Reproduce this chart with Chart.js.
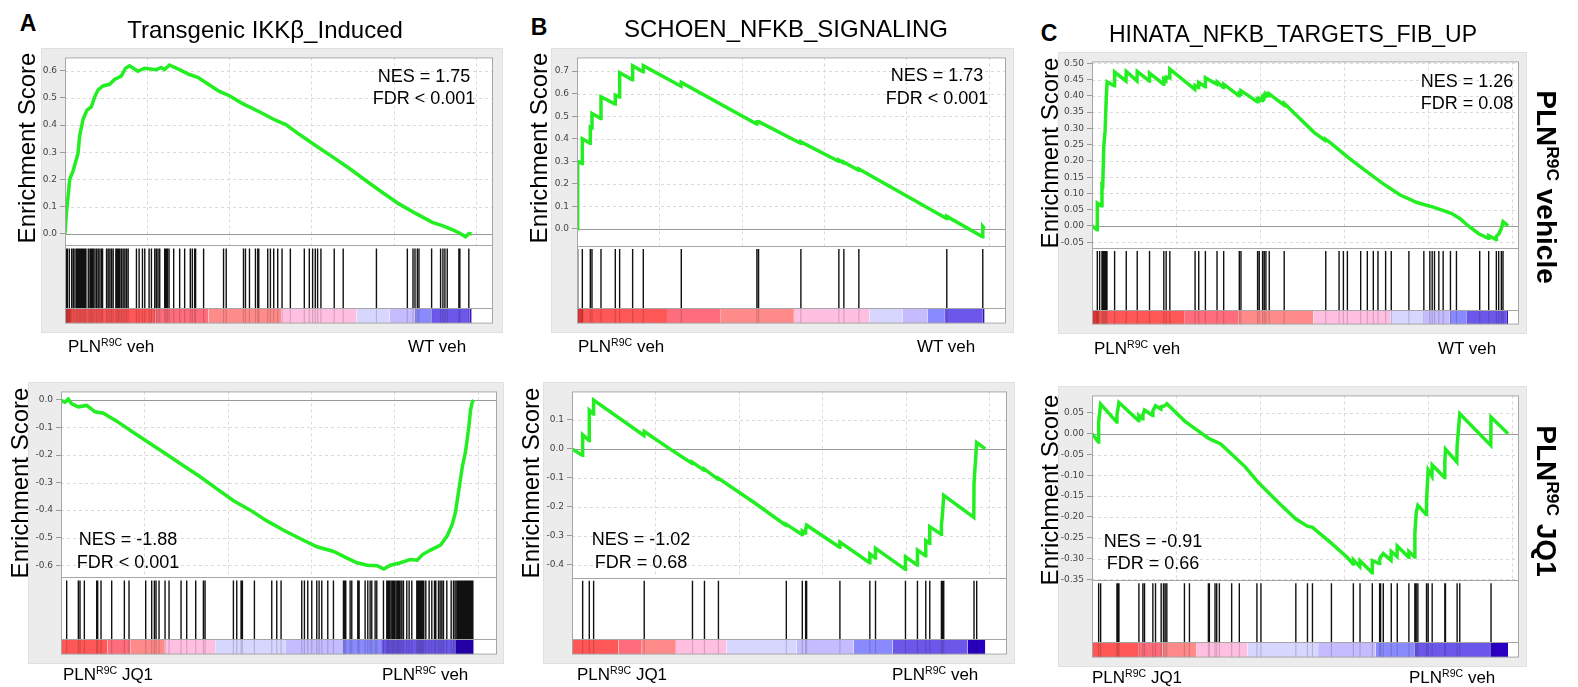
<!DOCTYPE html>
<html>
<head>
<meta charset="utf-8">
<script src="https://cdn.jsdelivr.net/npm/chart.js@4.4.1/dist/chart.umd.min.js"></script>
<style>
  html, body { margin: 0; padding: 0; background: #fff; }
  body { width: 1578px; height: 687px; position: relative; overflow: hidden;
         font-family: "Liberation Sans", Arial, sans-serif; color: #000; }
  .frame { position: absolute; background: #ececec; outline: 1px solid #e0e0e0; }
  .txt { position: absolute; white-space: nowrap; line-height: 1; }
  .sup { font-size: 0.62em; position: relative; top: -0.55em; }
</style>
</head>
<body>
<script>
// gene rank axis (ranked list of ~24750 genes)
const xGridStep = 5000;

// ---- row 1: PLN R9C veh vs WT veh ----
const esA1 = [[0,0],[81,0.075],[182,0.134],[284,0.20],[486,0.23],[648,0.265],[790,0.295],[891,0.36],[1094,0.42],[1337,0.455],[1600,0.467],[1802,0.503],[2005,0.529],[2309,0.544],[2714,0.55],[3017,0.568],[3422,0.58],[3686,0.609],[3929,0.618],[4435,0.598],[4840,0.609],[5549,0.604],[5852,0.612],[6055,0.604],[6359,0.621],[6966,0.604],[7574,0.586],[8080,0.576],[8586,0.556],[9396,0.524],[10004,0.508],[10813,0.479],[11826,0.449],[12838,0.417],[13446,0.402],[14256,0.366],[15269,0.324],[16281,0.283],[17294,0.241],[18306,0.196],[19319,0.152],[20331,0.110],[21344,0.075],[22356,0.042],[22964,0.030],[23571,0.015],[23976,0.004],[24381,-0.011],[24584,0.001],[24750,0]];
const hitsA1 = [61,142,263,405,506,607,708,789,870,951,1032,1113,1194,1274,1416,1517,1580,1659,1720,1821,1922,2023,2124,2225,2286,2529,2630,2731,2832,2933,3095,3176,3257,3338,3439,3540,3641,3743,3844,4349,4511,4714,4855,5118,5260,5462,5563,5664,5766,6069,6150,6231,6332,6615,6979,7283,7627,7748,7890,7950,8436,9650,9812,10863,10985,11228,11592,11733,11794,12340,12502,12704,12947,13210,13716,14566,14869,15071,15233,15375,15577,16386,16933,18955,20837,21181,21302,21444,21545,22314,22860,23002,23123,23265,23973,24033,24579];
const ticksA1 = [0, 0.1, 0.2, 0.3, 0.4, 0.5, 0.6];

const esB1 = [[0,0],[40,0.30],[310,0.29],[324,0.40],[795,0.38],[809,0.451],[895,0.448],[910,0.512],[1440,0.49],[1457,0.586],[2310,0.554],[2326,0.593],[2575,0.585],[2589,0.693],[3362,0.662],[3378,0.724],[4010,0.697],[4026,0.724],[6315,0.633],[6332,0.65],[10908,0.465],[10924,0.475],[11025,0.476],[13580,0.38],[13595,0.386],[15885,0.30],[15901,0.305],[16190,0.292],[16204,0.296],[17100,0.26],[17115,0.265],[22440,0.045],[22455,0.055],[24625,-0.036],[24640,0.01],[24750,0]];
const hitsB1 = [40,324,809,910,1457,2326,2589,3378,4026,6332,10924,11025,13595,15901,16204,17115,22455,24640];
const ticksB1 = [0, 0.1, 0.2, 0.3, 0.4, 0.5, 0.6, 0.7];

const esC1 = [[0,0],[300,-0.012],[316,0.07],[575,0.062],[593,0.126],[640,0.124],[700,0.244],[780,0.293],[850,0.397],[900,0.443],[1330,0.431],[1345,0.473],[2020,0.446],[2037,0.475],[2675,0.446],[2690,0.475],[3405,0.446],[3422,0.47],[4255,0.436],[4272,0.452],[4395,0.447],[4411,0.458],[4615,0.455],[4629,0.482],[6115,0.42],[6132,0.432],[6330,0.426],[6349,0.441],[6730,0.428],[6745,0.456],[7420,0.436],[7437,0.443],[7815,0.426],[7833,0.436],[8745,0.40],[8763,0.408],[8845,0.405],[8861,0.416],[9835,0.382],[9850,0.388],[9935,0.385],[9949,0.392],[10130,0.386],[10147,0.396],[10230,0.393],[10246,0.402],[10330,0.399],[10345,0.407],[10530,0.40],[10543,0.406],[11420,0.372],[11433,0.377],[13205,0.288],[13890,0.262],[13905,0.266],[14226,0.254],[15246,0.21],[16267,0.17],[17287,0.131],[18308,0.096],[19328,0.072],[20349,0.057],[21369,0.039],[21879,0.023],[22390,0],[23002,-0.024],[23580,-0.038],[23597,-0.03],[24035,-0.042],[24052,-0.032],[24191,-0.025],[24349,-0.008],[24448,0.013],[24750,0]];
const hitsC1 = [316,455,593,653,712,771,831,890,1345,2037,2690,3422,4272,4411,4629,6132,6349,6745,7437,7833,8763,8861,9850,9949,10147,10246,10345,10543,11433,13905,14697,14954,15191,15982,16378,16734,17011,17466,17802,18850,19740,20096,20235,20373,20631,20888,21323,21679,23063,23597,24052,24191,24349,24448];
const ticksC1 = [-0.05, 0, 0.05, 0.1, 0.15, 0.2, 0.25, 0.3, 0.35, 0.4, 0.45, 0.5];

// ---- row 2: PLN R9C JQ1 vs PLN R9C veh ----
const esA2 = [[0,-0.002],[240,-0.008],[440,0.003],[641,-0.014],[1041,-0.025],[1542,-0.02],[2042,-0.043],[2543,-0.048],[3343,-0.077],[4344,-0.118],[5345,-0.158],[6346,-0.198],[7347,-0.239],[8348,-0.279],[9349,-0.323],[10350,-0.366],[11351,-0.40],[12352,-0.439],[13353,-0.473],[14354,-0.504],[15355,-0.533],[16356,-0.55],[17157,-0.574],[17758,-0.591],[18358,-0.60],[18959,-0.602],[19359,-0.614],[19760,-0.60],[20361,-0.591],[20961,-0.579],[21362,-0.582],[21662,-0.562],[22162,-0.545],[22763,-0.527],[23163,-0.493],[23464,-0.452],[23664,-0.406],[23864,-0.325],[24064,-0.245],[24264,-0.187],[24464,-0.095],[24564,-0.037],[24664,-0.008],[24750,0]];
const hitsA2 = [340,1040,1140,1400,2140,2200,2400,3040,3800,4080,5080,5440,5600,5700,5880,6240,6480,7200,7540,8080,8540,8640,10340,10540,10800,10880,11600,12640,12940,13200,14440,14600,14800,15040,15340,15480,15640,16000,16340,16940,17000,17080,17340,17440,17800,17880,18240,18400,18540,18640,18840,18940,19340,19540,19600,19660,19740,19840,19900,19960,20040,20140,20200,20260,20340,20440,20540,20740,20880,21040,21340,21400,21460,21520,21580,21640,21700,21760,21880,22080,22240,22400,22480,22640,22740,22840,22940,23140,23400,23540,23640,23740,23800,23860,23920,23980,24040,24100,24160,24220,24280,24340,24400,24460,24520,24580,24640,24700];
const ticksA2 = [-0.6, -0.5, -0.4, -0.3, -0.2, -0.1, 0];

const esB2 = [[0,0],[620,-0.022],[638,0.049],[1020,0.029],[1036,0.133],[1280,0.12],[1295,0.168],[4305,0.046],[4325,0.06],[5860,0],[7200,-0.05],[7215,-0.046],[7915,-0.074],[7932,-0.07],[8750,-0.105],[8769,-0.101],[10860,-0.183],[12820,-0.264],[12835,-0.26],[13775,-0.295],[13792,-0.283],[13975,-0.29],[13991,-0.278],[14051,-0.263],[16025,-0.339],[16044,-0.321],[17820,-0.392],[17837,-0.362],[18160,-0.376],[18176,-0.343],[19955,-0.415],[19970,-0.372],[20670,-0.40],[20687,-0.349],[21170,-0.368],[21186,-0.316],[21410,-0.325],[21425,-0.268],[22105,-0.294],[22122,-0.262],[22182,-0.228],[22262,-0.16],[24060,-0.236],[24075,-0.118],[24235,0.022],[24750,0]];
const hitsB2 = [638,1036,1295,4325,7215,7932,8769,12835,13792,13991,14051,16044,17837,18176,19970,20687,21186,21425,22122,22182,22262,24075,24235];
const ticksB2 = [-0.4, -0.3, -0.2, -0.1, 0, 0.1];

const esC2 = [[0,0],[380,-0.02],[396,0.028],[514,0.071],[1470,0.028],[1484,0.045],[1543,0.06],[1602,0.075],[2775,0.031],[2789,0.044],[3010,0.036],[3026,0.045],[3125,0.057],[3605,0.044],[3620,0.055],[3778,0.067],[4100,0.059],[4114,0.065],[4253,0.066],[4352,0.068],[4451,0.072],[5499,0.031],[5796,0.022],[6923,-0.011],[7418,-0.02],[7672,-0.025],[9096,-0.079],[9910,-0.118],[11131,-0.167],[12125,-0.205],[12817,-0.222],[13114,-0.225],[14184,-0.261],[15201,-0.298],[15530,-0.313],[15547,-0.303],[15925,-0.319],[15943,-0.305],[16660,-0.334],[16675,-0.305],[17095,-0.312],[17110,-0.302],[17169,-0.296],[17327,-0.288],[17785,-0.304],[17802,-0.283],[18140,-0.295],[18158,-0.27],[18835,-0.297],[18850,-0.283],[19190,-0.296],[19206,-0.24],[19286,-0.19],[19384,-0.172],[19880,-0.194],[19899,-0.16],[19998,-0.087],[20220,-0.102],[20235,-0.075],[20970,-0.105],[20987,-0.07],[21027,-0.037],[21700,-0.068],[21719,-0.029],[21877,0.048],[23720,-0.028],[23736,0.04],[24750,0]];
const hitsC2 = [396,514,1484,1543,1602,2789,3026,3125,3620,3778,4114,4253,4352,4451,5499,5796,6923,6982,7319,7418,7576,8308,8763,9811,10049,12125,12817,13114,14242,15547,15943,16675,17110,17169,17327,17802,18158,18850,19206,19286,19384,19899,19998,20235,20987,21027,21719,21877,23736];
const ticksC2 = [-0.35, -0.3, -0.25, -0.2, -0.15, -0.1, -0.05, 0, 0.05];

// ranked-list colour bars (rank edges + colour of each block)
const vehBarEdges = [0, 420, 5520, 8730, 13170, 17750, 19760, 21280, 22300, 24640, 24750];
const vehBarColors = ['#dd3535', '#ff5656', '#ff6c7b', '#ff8a8a', '#ffbfe1', '#d6d6ff', '#c4bcff', '#8a8aff', '#6b58ea', '#3a10c0'];
const jq1BarEdges = [0, 2780, 4180, 6220, 9250, 13450, 16870, 19200, 23690, 24750];
const jq1BarColors = ['#ff5656', '#ff6c7b', '#ff8a8a', '#ffbfe1', '#d6d6ff', '#c4bcff', '#8a8aff', '#6b58ea', '#2a00c0'];

const panels = [
  { es: esA1, hits: hitsA1, ticks: ticksA1, dec: 1, yMin: -0.043, yMax: 0.649, xMax: 26050,
    edges: vehBarEdges, colors: vehBarColors, frame: [42, 49, 460, 283], pad: [6, 9, 1], axisW: 23, rows: [195, 65, 16] },
  { es: esB1, hits: hitsB1, ticks: ticksB1, dec: 1, yMin: -0.0755, yMax: 0.761, xMax: 26050,
    edges: vehBarEdges, colors: vehBarColors, frame: [552, 49, 461, 283], pad: [5, 7, 1], axisW: 25, rows: [196, 65, 16] },
  { es: esC1, hits: hitsC1, ticks: ticksC1, dec: 2, yMin: -0.067, yMax: 0.506, xMax: 25400,
    edges: vehBarEdges, colors: vehBarColors, frame: [1059, 53, 467, 280], pad: [5, 7, 1], axisW: 33, rows: [194, 65, 15] },
  { es: esA2, hits: hitsA2, ticks: ticksA2, dec: 1, yMin: -0.644, yMax: 0.031, xMax: 26150,
    edges: jq1BarEdges, colors: jq1BarColors, frame: [29, 383, 474, 280], pad: [4, 6, 0], axisW: 32, rows: [195, 65, 16] },
  { es: esB2, hits: hitsB2, ticks: ticksB2, dec: 1, yMin: -0.4436, yMax: 0.198, xMax: 26050,
    edges: jq1BarEdges, colors: jq1BarColors, frame: [544, 383, 470, 280], pad: [3, 7, 0], axisW: 28, rows: [196, 65, 16] },
  { es: esC2, hits: hitsC2, ticks: ticksC2, dec: 2, yMin: -0.3516, yMax: 0.092, xMax: 25400,
    edges: jq1BarEdges, colors: jq1BarColors, frame: [1059, 387, 467, 279], pad: [4, 7, 1], axisW: 33, rows: [193, 65, 16] }
];

// white plot area, dashed grid limited to the ES part, borders and separators
const framePlugin = {
  id: 'frame',
  beforeDraw(chart) {
    const { ctx, chartArea: a } = chart;
    ctx.save();
    ctx.fillStyle = '#fff';
    ctx.fillRect(a.left, a.top, a.width, a.height);
    ctx.restore();
  },
  beforeDatasetsDraw(chart) {
    const { ctx, chartArea: a, scales: { x, y } } = chart;
    const line = (x1, y1, x2, y2) => { ctx.beginPath(); ctx.moveTo(x1, y1); ctx.lineTo(x2, y2); ctx.stroke(); };
    ctx.save();
    ctx.lineWidth = 1;
    ctx.strokeStyle = '#dadada';
    ctx.setLineDash([3, 3]);
    for (let v = xGridStep; v < x.max; v += xGridStep) {
      const px = Math.round(x.getPixelForValue(v)) + 0.5;
      line(px, y.top, px, y.bottom);
    }
    y.ticks.forEach(t => {
      if (t.value === 0) return;
      const py = Math.round(y.getPixelForValue(t.value)) + 0.5;
      line(a.left, py, a.right, py);
    });
    ctx.setLineDash([]);
    ctx.strokeStyle = '#999';
    const z = Math.round(y.getPixelForValue(0)) + 0.5;
    line(a.left, z, a.right, z);
    ctx.restore();
  },
  afterDatasetsDraw(chart) {
    const { ctx, chartArea: a, scales: { yHit } } = chart;
    ctx.save();
    ctx.lineWidth = 1;
    ctx.strokeStyle = '#a6a6a6';
    ctx.strokeRect(a.left + 0.5, a.top + 0.5, a.width - 1, a.height - 1);
    [yHit.top, yHit.bottom].forEach(py => {
      const p = Math.round(py) + 0.5;
      ctx.beginPath(); ctx.moveTo(a.left, p); ctx.lineTo(a.right, p); ctx.stroke();
    });
    ctx.restore();
  }
};

function hitSegments(hits, top) {
  return hits.flatMap(h => [{ x: h, y: 0 }, { x: h, y: top }, { x: h, y: null }]);
}

function buildPanel(p) {
  const box = document.createElement('div');
  box.className = 'frame';
  Object.assign(box.style, { left: p.frame[0] + 'px', top: p.frame[1] + 'px', width: p.frame[2] + 'px', height: p.frame[3] + 'px' });
  const canvas = document.createElement('canvas');
  box.appendChild(canvas);
  document.body.appendChild(box);

  const datasets = [
    { data: p.es.map(([x, y]) => ({ x, y })), yAxisID: 'y', borderColor: '#22ee22', borderWidth: 3.5,
      pointRadius: 0, tension: 0 },
    { data: hitSegments(p.hits, 0.95), yAxisID: 'yHit', borderColor: '#111', borderWidth: 1.4,
      pointRadius: 0, spanGaps: false },
    { data: hitSegments(p.hits, 1), yAxisID: 'yBar', borderColor: 'rgba(0,0,0,0.16)', borderWidth: 1.2,
      pointRadius: 0, spanGaps: false }
  ];
  p.colors.forEach((c, i) => datasets.push({
    data: [{ x: p.edges[i], y: 1 }, { x: p.edges[i + 1], y: 1 }], yAxisID: 'yBar',
    fill: 'origin', backgroundColor: c, borderColor: 'rgba(0,0,0,0)', borderWidth: 0, pointRadius: 0
  }));

  new Chart(canvas, {
    type: 'line',
    data: { datasets },
    options: {
      responsive: true,
      maintainAspectRatio: false,
      animation: false,
      devicePixelRatio: 1,
      events: [],
      layout: { padding: { top: p.pad[0], right: p.pad[1], bottom: p.pad[2], left: 0 } },
      plugins: { legend: { display: false }, tooltip: { enabled: false } },
      scales: {
        x: { type: 'linear', min: 0, max: p.xMax, display: false },
        y: {
          type: 'linear', position: 'left', stack: 'gsea', stackWeight: p.rows[0], weight: 3,
          min: p.yMin, max: p.yMax,
          afterBuildTicks: ax => { ax.ticks = p.ticks.map(v => ({ value: v })); },
          afterFit: ax => { ax.width = p.axisW; },
          ticks: { font: { family: 'DejaVu Sans', size: 9 }, color: '#444', padding: 3, autoSkip: false,
                   callback: v => v.toFixed(p.dec) },
          grid: { drawOnChartArea: false, tickLength: 5, color: '#999' },
          border: { display: false }
        },
        yHit: { type: 'linear', position: 'left', stack: 'gsea', stackWeight: p.rows[1], weight: 2,
                min: 0, max: 1, display: false },
        yBar: { type: 'linear', position: 'left', stack: 'gsea', stackWeight: p.rows[2], weight: 1,
                min: 0, max: 1, display: false }
      }
    },
    plugins: [framePlugin]
  });
}

panels.forEach(buildPanel);

// text around the panels
const PLN = 'PLN<span class="sup">R9C</span>';
const labels = [
  { t: 'A', x: 28, y: 23, s: 23, b: true },
  { t: 'B', x: 539, y: 27, s: 23, b: true },
  { t: 'C', x: 1049, y: 33, s: 23, b: true },
  { t: 'Transgenic IKKβ_Induced', x: 265, y: 30, s: 24 },
  { t: 'SCHOEN_NFKB_SIGNALING', x: 786, y: 29, s: 24 },
  { t: 'HINATA_NFKB_TARGETS_FIB_UP', x: 1293, y: 34, s: 23 },
  { t: 'Enrichment Score', x: 27, y: 148, s: 24, r: -90 },
  { t: 'Enrichment Score', x: 539, y: 148, s: 24, r: -90 },
  { t: 'Enrichment Score', x: 1050, y: 153, s: 24, r: -90 },
  { t: 'Enrichment Score', x: 20, y: 483, s: 24, r: -90 },
  { t: 'Enrichment Score', x: 531, y: 483, s: 24, r: -90 },
  { t: 'Enrichment Score', x: 1050, y: 490, s: 24, r: -90 },
  { t: 'NES = 1.75', x: 424, y: 76, s: 18 },
  { t: 'FDR &lt; 0.001', x: 424, y: 98, s: 18 },
  { t: 'NES = 1.73', x: 937, y: 75, s: 18 },
  { t: 'FDR &lt; 0.001', x: 937, y: 98, s: 18 },
  { t: 'NES = 1.26', x: 1467, y: 81, s: 18 },
  { t: 'FDR = 0.08', x: 1467, y: 103, s: 18 },
  { t: 'NES = -1.88', x: 128, y: 539, s: 18 },
  { t: 'FDR &lt; 0.001', x: 128, y: 562, s: 18 },
  { t: 'NES = -1.02', x: 641, y: 539, s: 18 },
  { t: 'FDR = 0.68', x: 641, y: 562, s: 18 },
  { t: 'NES = -0.91', x: 1153, y: 541, s: 18 },
  { t: 'FDR = 0.66', x: 1153, y: 563, s: 18 },
  { t: PLN + ' veh', x: 68, y: 346, s: 17, left: true },
  { t: 'WT veh', x: 408, y: 346, s: 17, left: true },
  { t: PLN + ' veh', x: 578, y: 346, s: 17, left: true },
  { t: 'WT veh', x: 917, y: 346, s: 17, left: true },
  { t: PLN + ' veh', x: 1094, y: 348, s: 17, left: true },
  { t: 'WT veh', x: 1438, y: 348, s: 17, left: true },
  { t: PLN + ' JQ1', x: 63, y: 674, s: 17, left: true },
  { t: PLN + ' veh', x: 382, y: 674, s: 17, left: true },
  { t: PLN + ' JQ1', x: 577, y: 674, s: 17, left: true },
  { t: PLN + ' veh', x: 892, y: 674, s: 17, left: true },
  { t: PLN + ' JQ1', x: 1092, y: 677, s: 17, left: true },
  { t: PLN + ' veh', x: 1409, y: 677, s: 17, left: true },
  { t: PLN + ' vehicle', x: 1546, y: 187, s: 28, b: true, r: 90 },
  { t: PLN + ' JQ1', x: 1546, y: 501, s: 28, b: true, r: 90 }
];

labels.forEach(l => {
  const d = document.createElement('div');
  d.className = 'txt';
  d.innerHTML = l.t;
  d.style.left = l.x + 'px';
  d.style.top = l.y + 'px';
  d.style.fontSize = l.s + 'px';
  if (l.b) d.style.fontWeight = 'bold';
  const shift = l.left ? 'translate(0,-50%)' : 'translate(-50%,-50%)';
  d.style.transform = shift + (l.r ? ` rotate(${l.r}deg)` : '');
  document.body.appendChild(d);
});
</script>
</body>
</html>
